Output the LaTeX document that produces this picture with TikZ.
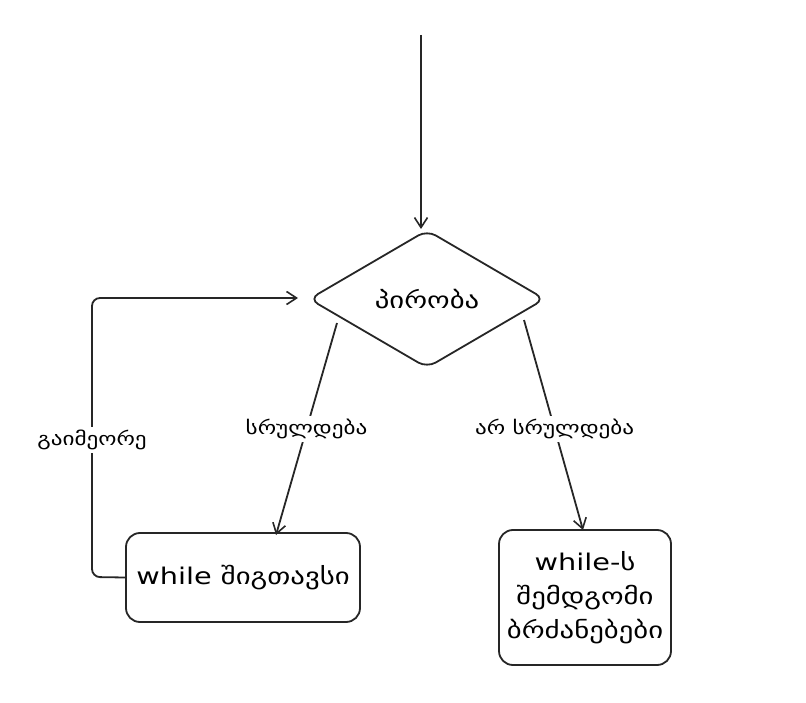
\documentclass[tikz,border=0pt]{standalone}
\usepackage{fontspec}
\setmainfont{DejaVu Sans}
\newfontfamily\widefont[FakeStretch=1.25]{DejaVu Sans}
\usetikzlibrary{arrows.meta,shapes.geometric}
\begin{document}
\begin{tikzpicture}[x=1pt,y=-1pt,
  line/.style={draw=black!85,line width=1.8pt},
  arr/.style={line,-{Straight Barb[length=10pt,width=13pt,line width=1.6pt]}},
  lbl/.style={fill=white,inner sep=3pt,font=\widefont\fontsize{18.5}{22}\selectfont},
  box/.style={draw=black!85,line width=1.8pt,rounded corners=14pt,inner sep=0pt},
  txt/.style={font=\widefont\fontsize{23}{27}\selectfont}]
\useasboundingbox (0,0) rectangle (806,703);
\node[draw=black!85,line width=1.8pt,diamond,aspect=1.71,minimum width=236pt,minimum height=138pt,rounded corners=10pt,inner sep=0pt] (cond) at (427,299) {};
\node[txt] at (cond.center) {პირობა};
\node[box,minimum width=234pt,minimum height=89pt] (body) at (243,577.5) {};
\node[txt] at (body.center) {while შიგთავსი};
\node[box,minimum width=172pt,minimum height=135pt] (after) at (585,597.5) {};
\node[txt,align=center] at (after.center) {while-ს\\[7pt]შემდგომი\\[7pt]ბრძანებები};
\coordinate (start) at (421,35);
\coordinate (ctop) at (421,229);
\coordinate (cl) at (337,323);
\coordinate (cr) at (524,320);
\coordinate (b1) at (276,535);
\coordinate (b2) at (583,530);
\coordinate (loopin) at (298,298);
\draw[arr] (start) -- (ctop);
\draw[arr] (cl) -- node[lbl,pos=0.5] {სრულდება} (b1);
\draw[arr] (cr) -- node[lbl,pos=0.52] {არ სრულდება} (b2);
\draw[arr,rounded corners=8pt] (body.west) -- (92,577) -- (92,298) -- (loopin);
\node[lbl] (rep) at (92,440) {გაიმეორე};
\end{tikzpicture}
\end{document}
